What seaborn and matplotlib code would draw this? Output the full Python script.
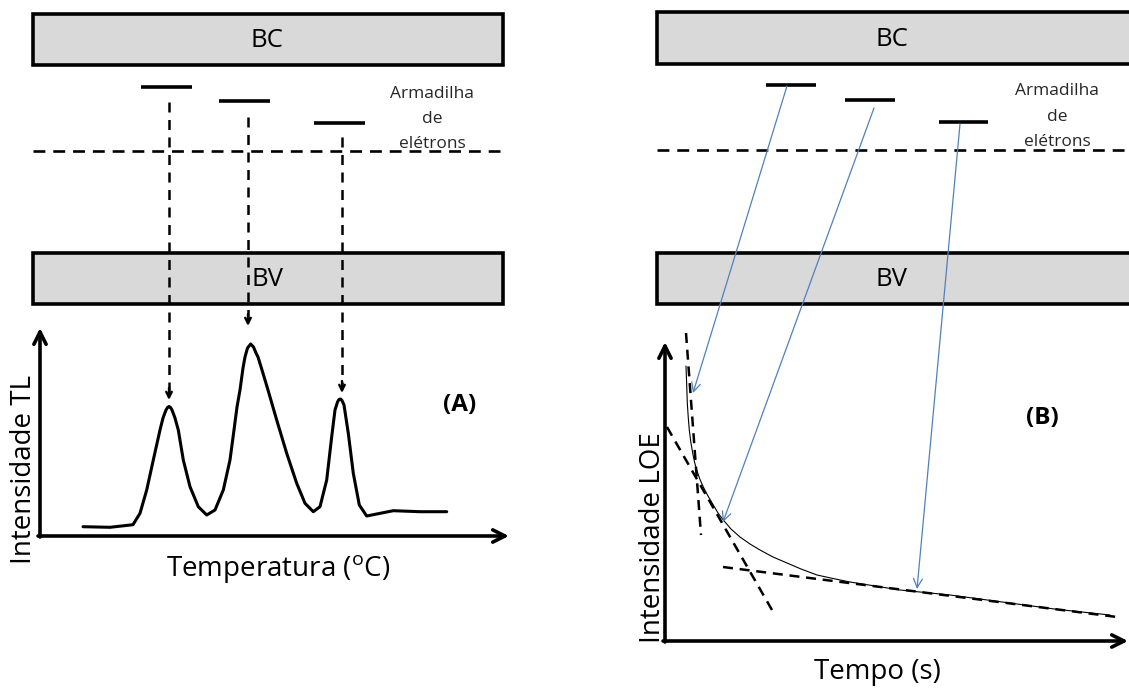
import numpy as np
import pandas as pd
import seaborn as sns
import matplotlib.pyplot as plt
from matplotlib.patches import Rectangle

# canvas is laid out in pixel units of the reference picture (1129 x 688)
W, H = 1129, 688

# band boxes (left panel, right panel)
band_x0 = [33, 657]
band_x1 = [503, 1140]
bc_top, bc_bot = [14, 12], [65, 64]
bv_top, bv_bot = [253, 253], [304, 304]
band_label_x = [267, 892]

# trap levels: (x start, x end, y)
traps_left_x0 = [141, 219, 314]
traps_left_x1 = [192, 270, 365]
traps_left_y = [87, 101, 123]
traps_right_x0 = [766, 845, 939]
traps_right_x1 = [816, 895, 988]
traps_right_y = [85, 100, 122]
fermi_y = [151, 150]

# TL glow curve (temperature, intensity)
tl_x = [83, 110, 133, 140, 146.7, 153.3, 160, 163, 166, 167.5, 169, 170.5, 172, 175,
        178.3, 183.3, 190, 198.3, 206.7, 215, 223.3, 230, 234, 237, 240, 243, 245, 247.5,
        250.7, 253.5, 256, 258, 262, 268, 276.7, 286.7, 296.7, 305, 313.3, 320, 326.7,
        331.7, 335, 337.5, 339, 340.5, 342, 344, 348.3, 353.3, 359.3, 366.7, 376.7,
        393.3, 420, 446.7]
tl_y = [526.7, 527.3, 524.7, 513.3, 490, 460, 430, 418, 410, 407.5, 406.5, 407.5, 410, 418,
        430, 460, 486.7, 506.7, 515, 510, 490, 460, 430, 407, 390, 368, 357, 348,
        344, 347, 353, 357, 370, 390, 420, 453.3, 483.3, 503.3, 511.7, 506.7, 480,
        436.7, 410, 402, 399.5, 399, 400.5, 405, 433.3, 473.3, 505, 516, 514,
        510.7, 511.7, 511.7]

# drop arrows from the traps to the TL peaks
tl_arrow_x = [169, 248, 342]
tl_arrow_y0 = [102, 117, 137]
tl_arrow_y1 = [400, 326, 393]

# OSL decay curve
osl_x = [686, 686.7, 687.3, 688.3, 689.3, 690.8, 692.7, 694.5, 696.7, 699.8, 703.3, 708,
         713.3, 718, 723.3, 731, 740, 750, 760, 773, 787, 801, 817, 833, 850, 875, 900,
         950, 1000, 1056.7, 1110]
osl_y = [366, 385, 403, 418, 430, 442, 453, 462, 470, 479, 487, 496,
         505, 513, 520, 529, 537, 544, 550, 557, 563, 569, 575, 578.5, 582, 586, 590,
         595, 601.7, 609.3, 615]

# tangent (component) lines of the OSL decay
tan_x0 = [686, 667, 723]
tan_y0 = [333, 427, 567]
tan_x1 = [701, 772, 1117]
tan_y1 = [535, 610, 617]

# blue arrows from traps to the decay components
osl_arrow_x0 = [787, 874, 960]
osl_arrow_y0 = [86, 108, 124]
osl_arrow_x1 = [693, 723, 917]
osl_arrow_y1 = [393, 522, 589]

BLUE = '#4f81bd'
GREY = '#d9d9d9'

sns.set_style("white")
plt.rcParams['font.family'] = ['Open Sans', 'DejaVu Sans']
plt.rcParams['mathtext.fontset'] = 'custom'
plt.rcParams['mathtext.rm'] = 'Open Sans'
plt.rcParams['text.color'] = 'black'

fig = plt.figure(figsize=(W / 100, H / 100), dpi=100)
ax = fig.add_axes([0, 0, 1, 1])

# energy bands
for i in range(2):
    for top, bot, lab in [(bc_top[i], bc_bot[i], 'BC'), (bv_top[i], bv_bot[i], 'BV')]:
        ax.add_patch(Rectangle((band_x0[i], top), band_x1[i] - band_x0[i], bot - top,
                               facecolor=GREY, edgecolor='black', lw=2.6, zorder=1))
        ax.text(band_label_x[i], (top + bot) / 2 + 1, lab, ha='center', va='center',
                fontsize=18.5, zorder=3)

# trap levels and the dashed reference line
for x0s, x1s, ys in [(traps_left_x0, traps_left_x1, traps_left_y),
                     (traps_right_x0, traps_right_x1, traps_right_y)]:
    for x0, x1, y in zip(x0s, x1s, ys):
        ax.plot([x0, x1], [y, y], color='black', lw=2.6, solid_capstyle='butt')
ax.plot([33, 500], [fermi_y[0]] * 2, color='black', lw=1.9, dashes=(4.5, 3))
ax.plot([657, 1129], [fermi_y[1]] * 2, color='black', lw=1.9, dashes=(4.5, 3))

for cx, ys in [(432, [94, 119, 144]), (1057, [91, 117, 142])]:
    for s, y in zip(['Armadilha', 'de', 'elétrons'], ys):
        ax.text(cx, y, s, ha='center', va='center', fontsize=12.5, color='#262626', zorder=3)

# ---- panel (A): TL ----
ax.annotate('', xy=(40, 328), xytext=(40, 537),
            arrowprops=dict(arrowstyle='->', lw=2.6, color='black', mutation_scale=22,
                            shrinkA=0, shrinkB=0))
ax.annotate('', xy=(509, 536), xytext=(38, 536),
            arrowprops=dict(arrowstyle='->', lw=2.6, color='black', mutation_scale=22,
                            shrinkA=0, shrinkB=0))
tl = pd.DataFrame({'T': tl_x, 'I': tl_y})
sns.lineplot(data=tl, x='T', y='I', sort=False, estimator=None, color='black', lw=2.2,
             ax=ax, legend=False)
ax.lines[-1].set_solid_joinstyle('round')

for x, y0, y1 in zip(tl_arrow_x, tl_arrow_y0, tl_arrow_y1):
    ax.plot([x, x], [y0, y1 - 6], color='black', lw=1.8, dashes=(4, 3))
    ax.annotate('', xy=(x, y1), xytext=(x, y1 - 12),
                arrowprops=dict(arrowstyle='->', lw=1.7, color='black', mutation_scale=10,
                                shrinkA=0, shrinkB=0))

ax.text(24, 469, 'Intensidade TL', rotation=90, ha='center', va='center', fontsize=20)
ax.text(278, 570, r'Temperatura ($^{\mathrm{o}}$C)', ha='center', va='center', fontsize=20)
ax.text(460, 405, '(A)', ha='center', va='center', fontsize=17.5, fontweight='bold')

# ---- panel (B): LOE ----
ax.annotate('', xy=(665, 342), xytext=(665, 642),
            arrowprops=dict(arrowstyle='->', lw=2.6, color='black', mutation_scale=22,
                            shrinkA=0, shrinkB=0))
ax.annotate('', xy=(1128, 641), xytext=(663, 641),
            arrowprops=dict(arrowstyle='->', lw=2.6, color='black', mutation_scale=22,
                            shrinkA=0, shrinkB=0))
osl = pd.DataFrame({'t': osl_x, 'I': osl_y})
sns.lineplot(data=osl, x='t', y='I', sort=False, estimator=None, color='black', lw=0.8,
             ax=ax, legend=False)

for x0, y0, x1, y1 in zip(tan_x0, tan_y0, tan_x1, tan_y1):
    ax.plot([x0, x1], [y0, y1], color='black', lw=1.8, dashes=(4, 2.7))

for x0, y0, x1, y1 in zip(osl_arrow_x0, osl_arrow_y0, osl_arrow_x1, osl_arrow_y1):
    ax.annotate('', xy=(x1, y1), xytext=(x0, y0),
                arrowprops=dict(arrowstyle='->', lw=0.9, color=BLUE, mutation_scale=16,
                                shrinkA=0, shrinkB=0))

ax.text(653, 538, 'Intensidade LOE', rotation=90, ha='center', va='center', fontsize=20)
ax.text(877, 672, 'Tempo (s)', ha='center', va='center', fontsize=20)
ax.text(1042, 418, '(B)', ha='center', va='center', fontsize=17.5, fontweight='bold')

ax.set_xlabel('')
ax.set_ylabel('')
ax.set_xlim(0, W)
ax.set_ylim(H, 0)
ax.axis('off')
fig.savefig('out.png', dpi=100)
